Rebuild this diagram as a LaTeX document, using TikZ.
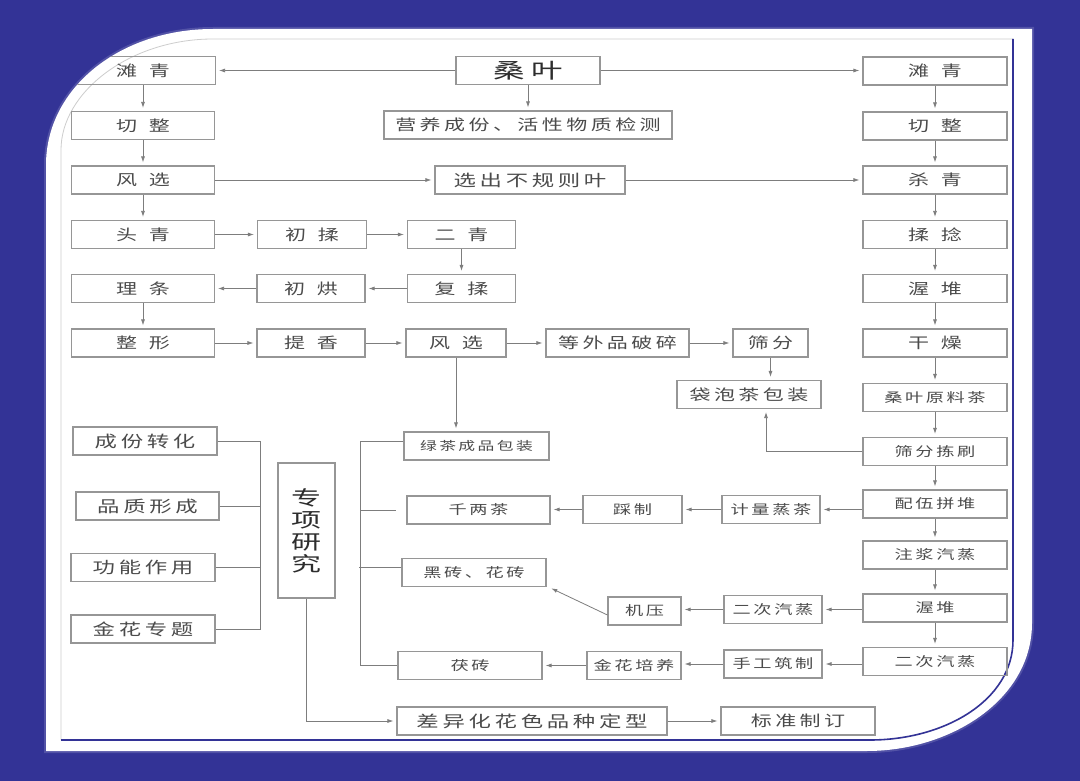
\documentclass[tikz,border=0pt]{standalone}
\usepackage{fontspec}
\usepackage{tikz}
\usetikzlibrary{arrows.meta}
\newfontfamily\cjk[FakeStretch=1.4,LetterSpace=23]{Noto Sans CJK SC}
\newfontfamily\cjkwide[FakeStretch=1.4,LetterSpace=80]{Noto Sans CJK SC}
\newfontfamily\cjksmall[FakeStretch=1.4,LetterSpace=20]{Noto Sans CJK SC}
\newfontfamily\cjkbig[FakeStretch=1.5,LetterSpace=30]{Noto Sans CJK SC}
\newfontfamily\cjktall[FakeStretch=1.5]{Noto Sans CJK SC}
\definecolor{panelblue}{RGB}{51,51,150}
\definecolor{boxgray}{RGB}{150,150,150}
\definecolor{linegray}{RGB}{125,125,125}
\definecolor{txtgray}{RGB}{75,75,75}
\definecolor{txtdark}{RGB}{45,45,45}
\definecolor{framegray}{RGB}{205,205,205}
\newcommand{\panelpath}{(46,165) .. controls (46,88) and (120,29) .. (213,29) -- (1032,29)
  -- (1032,623) .. controls (1032,700) and (950,751) .. (867,751) -- (46,751) -- cycle}
\tikzset{
  box/.style={draw=boxgray,line width=1.1pt,inner sep=0pt,minimum height=28pt,
              text=txtgray,font=\fontsize{15}{15}\cjk},
  wbox/.style={box,font=\fontsize{15}{15}\cjkwide},
  sbox/.style={box,font=\fontsize{13}{13}\cjksmall},
  conn/.style={draw=linegray,line width=0.8pt},
  arr/.style={conn,-{Latex[length=6pt,width=4pt]},shorten >=3pt}
}
\begin{document}
\begin{tikzpicture}[x=1pt,y=-1pt]
    \useasboundingbox (0,0) rectangle (1080,781);
    \fill[panelblue] (0,0) rectangle (1080,781);
    \draw[line width=4pt,panelblue!85!white] \panelpath;
    \fill[white] \panelpath;
    \begin{scope}
    \clip \panelpath;
    % --- inner frame
    \draw[framegray,line width=0.8pt] (61,740) -- (61,150) .. controls (61,92) and (130,39) .. (213,39) -- (1013,39);
    \draw[panelblue,line width=1.6pt] (1013,39) -- (1013,640) .. controls (1013,700) and (945,740) .. (870,740) -- (61,740);
    % --- top
    \node[box,minimum width=144pt,font=\fontsize{21}{21}\cjkbig,text=txtdark] (sangye) at (528,70.5) {桑叶};
    \node[box,minimum width=288pt] (yingyang) at (528,125) {营养成份、活性物质检测};
    \node[box,minimum width=190pt,font=\fontsize{16}{16}\cjk] (xuanchu) at (530,180) {选出不规则叶};
    % --- left column
    \node[wbox,minimum width=145pt] (tanqingL) at (143,70.5) {滩青};
    \node[wbox,minimum width=143pt] (qiezhengL) at (143,125.5) {切整};
    \node[wbox,minimum width=143pt] (fengxuanL) at (143,180) {风选};
    \node[wbox,minimum width=143pt] (touqing) at (143,234.5) {头青};
    \node[wbox,minimum width=143pt] (litiao) at (143,288.5) {理条};
    \node[wbox,minimum width=143pt] (zhengxing) at (143,343) {整形};
    % --- middle rows
    \node[wbox,minimum width=109pt] (churou) at (312,234.5) {初揉};
    \node[wbox,minimum width=108pt] (erqing) at (461.5,234.5) {二青};
    \node[wbox,minimum width=108pt] (chuhong) at (311,288.5) {初烘};
    \node[wbox,minimum width=108pt] (furou) at (461.5,288.5) {复揉};
    \node[wbox,minimum width=108pt] (tixiang) at (311,343) {提香};
    \node[wbox,minimum width=100pt] (fengxuanM) at (456,343) {风选};
    \node[box,minimum width=143pt] (dengwai) at (617.5,343) {等外品破碎};
    \node[box,minimum width=75pt] (shaifen) at (770.5,343) {筛分};
    \node[box,minimum width=144pt] (daipao) at (749,394.5) {袋泡茶包装};
    % --- right column
    \node[wbox,minimum width=144pt] (tanqingR) at (935,71) {滩青};
    \node[wbox,minimum width=144pt] (qiezhengR) at (935,126) {切整};
    \node[wbox,minimum width=144pt] (shaqing) at (935,180) {杀青};
    \node[wbox,minimum width=144pt] (rounian) at (935,234.5) {揉捻};
    \node[wbox,minimum width=144pt] (woduiA) at (935,288.5) {渥堆};
    \node[wbox,minimum width=144pt] (ganzao) at (935,343) {干燥};
    \node[sbox,minimum width=144pt] (yuanliao) at (935,397.5) {桑叶原料茶};
    \node[sbox,minimum width=144pt] (shaijian) at (935,451.5) {筛分拣刷};
    \node[sbox,minimum width=144pt] (peiwu) at (935,504) {配伍拼堆};
    \node[sbox,minimum width=144pt] (zhujiang) at (935,555) {注浆汽蒸};
    \node[sbox,minimum width=144pt] (woduiB) at (935,608) {渥堆};
    \node[sbox,minimum width=144pt] (erciR) at (935,661.5) {二次汽蒸};
    % --- lower middle
    \node[sbox,minimum width=145pt,font=\fontsize{12}{12}\cjksmall] (lvcha) at (476.5,446) {绿茶成品包装};
    \node[sbox,minimum width=98pt] (jiliang) at (771,509.5) {计量蒸茶};
    \node[sbox,minimum width=99pt] (caizhi) at (632.5,509.5) {踩制};
    \node[sbox,minimum width=143pt] (qianliang) at (478.5,510) {千两茶};
    \node[sbox,minimum width=144pt] (heizhuan) at (474,572.5) {黑砖、花砖};
    \node[sbox,minimum width=98pt] (erciM) at (773,609.5) {二次汽蒸};
    \node[sbox,minimum width=73pt] (jiya) at (644.5,611) {机压};
    \node[sbox,minimum width=98pt] (shougong) at (773,664) {手工筑制};
    \node[sbox,minimum width=94pt] (jinhua) at (634,665.5) {金花培养};
    \node[sbox,minimum width=144pt] (fuzhuan) at (470,665.5) {茯砖};
    \node[box,minimum width=270pt,font=\fontsize{16}{16}\cjk] (chayi) at (532,721) {差异化花色品种定型};
    \node[box,minimum width=154pt] (biaozhun) at (798,721) {标准制订};
    % --- special studies
    \node[box,minimum width=144pt,font=\fontsize{16}{16}\cjk] (chengfen) at (145,441) {成份转化};
    \node[box,minimum width=143pt,font=\fontsize{16}{16}\cjk] (pinzhi) at (147.5,506) {品质形成};
    \node[box,minimum width=144pt,font=\fontsize{16}{16}\cjk] (gongneng) at (143,567.5) {功能作用};
    \node[box,minimum width=144pt,font=\fontsize{16}{16}\cjk] (jinhuaZ) at (143,629) {金花专题};
    \node[box,minimum width=57pt,minimum height=135pt,align=center,text=txtdark,
          font=\fontsize{20}{22}\cjktall] (zhuanxiang) at (306.5,530.5) {专\\项\\研\\究};
    % --- arrows, top
    \draw[arr] (sangye.west) -- (sangye.west -| tanqingL.east);
    \draw[arr] (sangye.east) -- (sangye.east -| tanqingR.west);
    \draw[arr] (sangye) -- (yingyang);
    \draw[arr] (fengxuanL.east) -- (fengxuanL.east -| xuanchu.west);
    \draw[arr] (xuanchu.east) -- (xuanchu.east -| shaqing.west);
    % --- arrows, left branch
    \draw[arr] (tanqingL) -- (qiezhengL);
    \draw[arr] (qiezhengL) -- (fengxuanL);
    \draw[arr] (fengxuanL) -- (touqing);
    \draw[arr] (touqing) -- (churou);
    \draw[arr] (churou) -- (erqing);
    \draw[arr] (erqing) -- (furou);
    \draw[arr] (furou) -- (chuhong);
    \draw[arr] (chuhong) -- (litiao);
    \draw[arr] (litiao) -- (zhengxing);
    \draw[arr] (zhengxing) -- (tixiang);
    \draw[arr] (tixiang) -- (fengxuanM);
    \draw[arr] (fengxuanM) -- (dengwai);
    \draw[arr] (dengwai) -- (shaifen);
    \draw[arr] (shaifen.south) -- (shaifen.south |- daipao.north);
    \draw[arr] (fengxuanM.south) -- (fengxuanM.south |- lvcha.north);
    % --- arrows, right branch
    \draw[arr] (tanqingR) -- (qiezhengR);
    \draw[arr] (qiezhengR) -- (shaqing);
    \draw[arr] (shaqing) -- (rounian);
    \draw[arr] (rounian) -- (woduiA);
    \draw[arr] (woduiA) -- (ganzao);
    \draw[arr] (ganzao) -- (yuanliao);
    \draw[arr] (yuanliao) -- (shaijian);
    \draw[arr] (shaijian) -- (peiwu);
    \draw[arr] (peiwu) -- (zhujiang);
    \draw[arr] (zhujiang) -- (woduiB);
    \draw[arr] (woduiB) -- (erciR);
    \draw[arr] (shaijian.west) -| ([xshift=17pt]daipao.south);
    \draw[arr] (peiwu.west |- jiliang) -- (jiliang.east);
    \draw[arr] (jiliang) -- (caizhi);
    \draw[arr] (caizhi.west) -- (caizhi.west -| qianliang.east);
    \draw[arr] (woduiB.west |- erciM) -- (erciM.east);
    \draw[arr] (erciM.west) -- (erciM.west -| jiya.east);
    \draw[arr] ([yshift=-4pt]jiya.west) -- ([xshift=2pt]heizhuan.south east);
    \draw[arr] (erciR.west |- shougong) -- (shougong.east);
    \draw[arr] (shougong.west) -- (shougong.west -| jinhua.east);
    \draw[arr] (jinhua) -- (fuzhuan);
    % --- brackets
    \coordinate (brL) at (260,0);
    \draw[conn] (chengfen.east) -| (brL |- jinhuaZ.east) -- (jinhuaZ.east);
    \draw[conn] (pinzhi.east) -- (brL |- pinzhi.east);
    \draw[conn] (gongneng.east) -- (brL |- gongneng.east);
    \coordinate (brR) at (360,0);
    \draw[conn] ([yshift=5pt]lvcha.west) -| (brR |- fuzhuan.west) -- (fuzhuan.west);
    \draw[conn] (brR |- qianliang.west) -- ([xshift=-10pt]qianliang.west);
    \draw[conn] ([yshift=5pt]heizhuan.west) -- ++(-42,0);
    \draw[arr] (zhuanxiang.south) |- (chayi.west);
    \draw[arr] (chayi) -- (biaozhun);
    \end{scope}
\end{tikzpicture}
\end{document}
